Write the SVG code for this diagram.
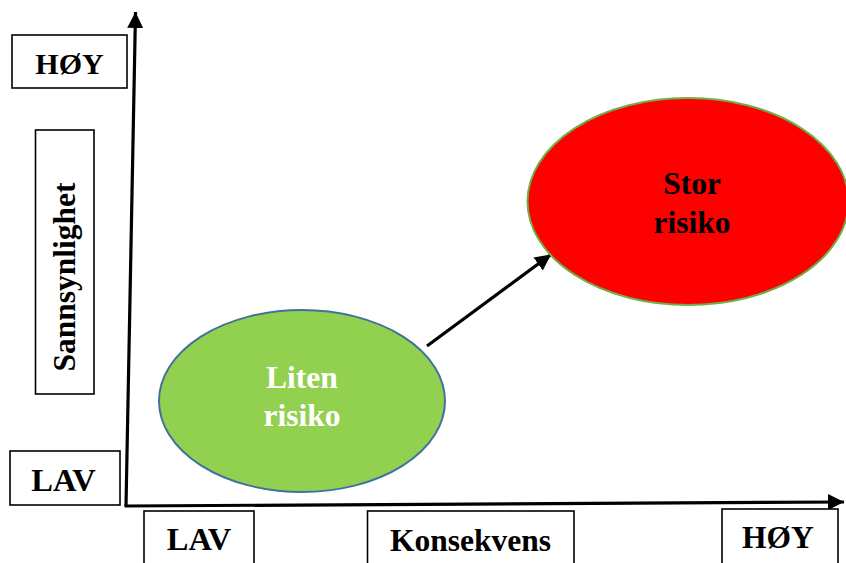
<svg xmlns="http://www.w3.org/2000/svg" width="846" height="563" viewBox="0 0 846 563">
<style>
.box{fill:#fff;stroke:#000;stroke-width:1.6}
.lbl{font-family:"Liberation Serif","Times New Roman",serif;font-weight:bold;font-size:31.5px;text-anchor:middle;fill:#000}
.axis{stroke:#000;stroke-width:3.2;fill:none}
</style>
<defs>
<marker id="ah" markerUnits="userSpaceOnUse" markerWidth="18" markerHeight="16" refX="16" refY="8" orient="auto">
<path d="M0,0 L16,8 L0,16 Z" fill="#000"/>
</marker>
</defs>
<rect width="846" height="563" fill="#fff"/>
<g id="connectors">
<path class="axis" d="M126,506 L135.5,12" marker-end="url(#ah)"/>
<path class="axis" d="M124.5,506 L844,502" marker-end="url(#ah)"/>
<path class="axis" d="M427,346 L551,254.5" marker-end="url(#ah)"/>
</g>
<g id="hoy-y">
<rect class="box" x="12" y="35" width="115" height="53"/>
<text class="lbl" x="69.5" y="74" style="font-size:30px">HØY</text>
</g>
<g id="sannsynlighet">
<rect class="box" x="35.5" y="130" width="58.5" height="264"/>
<text class="lbl" transform="translate(75,277) rotate(-90)">Sannsynlighet</text>
</g>
<g id="lav-y">
<rect class="box" x="10" y="451" width="110" height="54"/>
<text class="lbl" x="63.5" y="491" style="font-size:32.5px">LAV</text>
</g>
<g id="lav-x">
<rect class="box" x="144" y="511" width="110" height="60"/>
<text class="lbl" x="199" y="550" style="font-size:32.5px">LAV</text>
</g>
<g id="konsekvens">
<rect class="box" x="367.5" y="511" width="206.5" height="60"/>
<text class="lbl" x="470.5" y="551">Konsekvens</text>
</g>
<g id="hoy-x">
<rect class="box" x="722" y="509" width="116" height="60"/>
<text class="lbl" x="778" y="548">HØY</text>
</g>
<g id="liten-risiko">
<ellipse cx="302" cy="401" rx="143" ry="91" fill="#92D050" stroke="#41719C" stroke-width="2"/>
<text class="lbl" x="302" y="388" style="fill:#fff">Liten</text>
<text class="lbl" x="302" y="426" style="fill:#fff">risiko</text>
</g>
<g id="stor-risiko">
<ellipse cx="688" cy="201.5" rx="160.5" ry="103.5" fill="#FF0000" stroke="#70AD47" stroke-width="2"/>
<text class="lbl" x="692" y="194">Stor</text>
<text class="lbl" x="692" y="233">risiko</text>
</g>
</svg>
